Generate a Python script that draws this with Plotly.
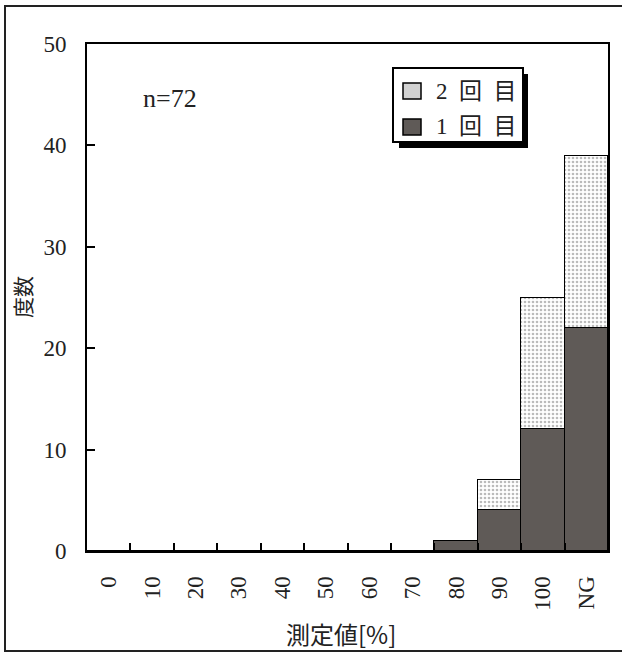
import plotly.graph_objects as go

categories = ["0", "10", "20", "30", "40", "50", "60", "70", "80", "90", "100", "NG"]
first_counts = [0, 0, 0, 0, 0, 0, 0, 0, 1, 4, 12, 22]
second_counts = [0, 0, 0, 0, 0, 0, 0, 0, 0, 3, 13, 17]
series_names = ["1回目", "2回目"]
y_ticks = [0, 10, 20, 30, 40, 50]
n_label = "n=72"
x_title = "測定値[%]"
y_title = "度数"

SERIF = "Liberation Serif, 'Noto Sans CJK JP', serif"
CJK = "'Noto Sans CJK JP', sans-serif"
DARK = "#5f5a57"
TXT = "#222"

L, R, T, B = 87, 14, 44, 102
W, H = 622, 653
pw, ph = W - L - R, H - T - B


def px_x(x):
    return (x - L) / pw


def px_y(y):
    return (H - B - y) / ph


def spaced(s):
    return "\u2002".join(list(s))


fig = go.Figure()
fig.add_trace(go.Bar(
    x=categories, y=first_counts, name=series_names[0], showlegend=False,
    marker=dict(color=DARK, line=dict(color="black", width=1.5)),
))
fig.add_trace(go.Bar(
    x=categories, y=second_counts, name=series_names[1], showlegend=False,
    marker=dict(color="white", line=dict(color="black", width=1.5),
                pattern=dict(shape=".", fgcolor="#777777", bgcolor="white",
                             size=4, solidity=0.35)),
))

shapes = [
    # outer frame
    dict(type="rect", xref="paper", yref="paper",
         x0=px_x(5), x1=px_x(640), y0=px_y(651), y1=px_y(6),
         line=dict(color=TXT, width=2), fillcolor="rgba(0,0,0,0)", layer="below"),
    # legend shadow
    dict(type="rect", xref="paper", yref="paper",
         x0=px_x(399), x1=px_x(528), y0=px_y(148), y1=px_y(74),
         line=dict(color="black", width=0), fillcolor="black", layer="above"),
    # legend box
    dict(type="rect", xref="paper", yref="paper",
         x0=px_x(393), x1=px_x(523), y0=px_y(142), y1=px_y(68),
         line=dict(color="black", width=2), fillcolor="white", layer="above"),
    # swatch 2回目
    dict(type="rect", xref="paper", yref="paper",
         x0=px_x(403), x1=px_x(421), y0=px_y(99), y1=px_y(83),
         line=dict(color="black", width=1.5), fillcolor="#d2d2d2", layer="above"),
    # swatch 1回目
    dict(type="rect", xref="paper", yref="paper",
         x0=px_x(403), x1=px_x(421), y0=px_y(135), y1=px_y(119),
         line=dict(color="black", width=1.5), fillcolor=DARK, layer="above"),
]

annotations = [
    dict(text=n_label, xref="paper", yref="paper", x=px_x(141), y=px_y(98),
         xanchor="left", yanchor="middle", showarrow=False,
         font=dict(family=SERIF, size=26, color=TXT)),
    dict(text=spaced(series_names[1]), xref="paper", yref="paper", x=px_x(434), y=px_y(91),
         xanchor="left", yanchor="middle", showarrow=False,
         font=dict(family=SERIF, size=23, color=TXT)),
    dict(text=spaced(series_names[0]), xref="paper", yref="paper", x=px_x(434), y=px_y(127),
         xanchor="left", yanchor="middle", showarrow=False,
         font=dict(family=SERIF, size=23, color=TXT)),
    dict(text=x_title, xref="paper", yref="paper", x=px_x(341), y=px_y(633),
         xanchor="center", yanchor="middle", showarrow=False,
         font=dict(family=CJK, size=24, color=TXT)),
    dict(text=y_title, xref="paper", yref="paper", x=px_x(22), y=px_y(297),
         xanchor="center", yanchor="middle", showarrow=False, textangle=-90,
         font=dict(family=CJK, size=21, color=TXT)),
]

fig.update_layout(
    width=W, height=H,
    margin=dict(l=L, r=R, t=T, b=B),
    barmode="stack", bargap=0,
    plot_bgcolor="white", paper_bgcolor="white",
    font=dict(family=SERIF, size=22, color=TXT),
    showlegend=False,
    xaxis=dict(
        type="category", categoryorder="array", categoryarray=categories,
        showline=True, linecolor="black", linewidth=2, mirror=True,
        ticks="inside", ticklen=8, tickwidth=1.5, tickcolor="black",
        tickson="boundaries", tickangle=-90, ticklabelstandoff=14,
        tickfont=dict(family=SERIF, size=23, color=TXT),
        showgrid=False,
    ),
    yaxis=dict(
        range=[0, 50], tickvals=y_ticks,
        showline=True, linecolor="black", linewidth=2, mirror=True,
        ticks="inside", ticklen=8, tickwidth=1.5, tickcolor="black",
        ticklabelstandoff=14,
        tickfont=dict(family=SERIF, size=23, color=TXT),
        showgrid=False, zeroline=False,
    ),
    shapes=shapes,
    annotations=annotations,
)

fig.write_html("out.html", config={"displayModeBar": False},
               post_script="document.body.style.margin='0';")
